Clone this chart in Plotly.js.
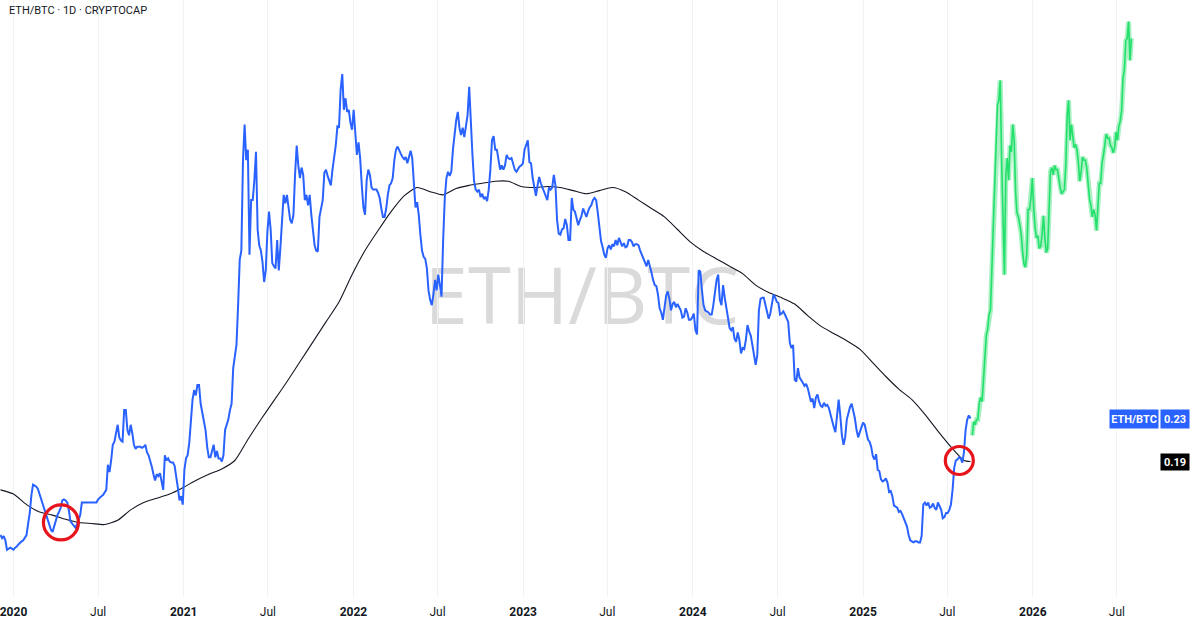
<!DOCTYPE html>
<html><head><meta charset="utf-8">
<script src="https://cdn.plot.ly/plotly-3.0.1.min.js"></script>
<style>html,body{margin:0;padding:0;background:#fff;} #chart{width:1200px;height:629px;}</style>
</head><body><div id="chart"></div>
<script>
// ---- data (ETH market cap / BTC market cap ratio) ----
const blueStart = '2019-12-04';
const blueStepDays = 7;            // weekly readings
const blueWeekly = [
0.119,0.118,0.105,0.107,0.105,0.108,0.112,0.114,0.119,0.140,
0.167,0.165,0.158,0.150,0.139,0.128,0.122,0.133,0.141,0.152,
0.152,0.143,0.130,0.126,0.133,0.150,0.150,0.150,0.150,0.150,
0.153,0.156,0.160,0.186,0.190,0.208,0.224,0.209,0.238,0.219,
0.224,0.205,0.203,0.203,0.203,0.198,0.190,0.177,0.177,0.178,
0.162,0.190,0.189,0.188,0.176,0.152,0.148,0.192,0.207,0.248,
0.252,0.262,0.236,0.219,0.193,0.200,0.193,0.192,0.189,0.219,
0.229,0.244,0.290,0.338,0.390,0.510,0.486,0.438,0.457,0.410,
0.390,0.360,0.408,0.410,0.375,0.400,0.393,0.443,0.443,0.419,
0.424,0.490,0.459,0.462,0.443,0.443,0.410,0.390,0.422,0.438,
0.467,0.457,0.467,0.490,0.507,0.558,0.535,0.524,0.505,0.505,
0.493,0.452,0.424,0.467,0.450,0.448,0.445,0.430,0.422,0.443,
0.454,0.476,0.489,0.482,0.477,0.473,0.485,0.448,0.436,0.405,
0.384,0.373,0.343,0.348,0.352,0.357,0.400,0.459,0.461,0.486,
0.514,0.507,0.507,0.510,0.546,0.481,0.448,0.448,0.444,0.441,
0.448,0.495,0.486,0.478,0.471,0.471,0.478,0.478,0.467,0.468,
0.471,0.486,0.495,0.473,0.448,0.452,0.454,0.446,0.438,0.448,
0.462,0.419,0.405,0.411,0.414,0.400,0.429,0.421,0.419,0.430,
0.422,0.431,0.438,0.438,0.410,0.393,0.383,0.395,0.396,0.400,
0.402,0.394,0.393,0.400,0.398,0.396,0.395,0.386,0.378,0.381,
0.369,0.357,0.348,0.331,0.338,0.351,0.333,0.341,0.339,0.333,
0.327,0.331,0.324,0.330,0.310,0.370,0.338,0.332,0.329,0.338,
0.362,0.343,0.357,0.337,0.316,0.317,0.303,0.305,0.297,0.305,
0.313,0.300,0.281,0.333,0.345,0.338,0.325,0.338,0.345,0.340,
0.330,0.329,0.322,0.297,0.267,0.278,0.267,0.261,0.259,0.246,
0.240,0.253,0.242,0.245,0.243,0.233,0.222,0.230,0.233,0.205,
0.229,0.241,0.237,0.219,0.217,0.226,0.217,0.208,0.194,0.196,
0.180,0.170,0.173,0.160,0.156,0.146,0.141,0.139,0.131,0.119,
0.113,0.113,0.112,0.118,0.150,0.150,0.146,0.145,0.150,0.143,
0.136,0.140,0.148,0.183,0.191,0.192,0.198,0.229,0.230
];
// readings half-way between the weekly ones (3.5 days later)
const blueMidweek = [
0.116,0.114,0.106,0.106,0.107,0.110,0.113,0.116,0.130,0.157,
0.166,0.163,0.154,0.145,0.133,0.124,0.128,0.138,0.145,0.153,
0.150,0.132,0.128,0.129,0.138,0.150,0.150,0.150,0.150,0.150,
0.155,0.157,0.162,0.179,0.205,0.217,0.212,0.208,0.238,0.214,
0.216,0.201,0.203,0.202,0.205,0.195,0.184,0.171,0.175,0.170,
0.195,0.192,0.188,0.185,0.164,0.156,0.181,0.195,0.224,0.257,
0.262,0.244,0.228,0.203,0.193,0.205,0.199,0.192,0.195,0.224,
0.238,0.278,0.300,0.381,0.476,0.476,0.386,0.438,0.484,0.395,
0.379,0.371,0.427,0.378,0.373,0.371,0.417,0.435,0.431,0.416,
0.462,0.471,0.469,0.438,0.433,0.424,0.395,0.389,0.431,0.464,
0.461,0.452,0.478,0.508,0.543,0.524,0.522,0.512,0.524,0.481,
0.478,0.431,0.457,0.462,0.448,0.448,0.440,0.422,0.430,0.452,
0.459,0.486,0.485,0.479,0.479,0.479,0.478,0.431,0.424,0.390,
0.382,0.352,0.338,0.362,0.367,0.346,0.440,0.465,0.465,0.502,
0.522,0.500,0.498,0.519,0.505,0.456,0.446,0.441,0.439,0.437,
0.467,0.499,0.486,0.467,0.467,0.481,0.477,0.473,0.465,0.470,
0.473,0.490,0.474,0.459,0.442,0.460,0.450,0.441,0.450,0.450,
0.452,0.406,0.410,0.420,0.400,0.440,0.427,0.414,0.423,0.425,
0.427,0.433,0.440,0.426,0.399,0.386,0.392,0.391,0.394,0.395,
0.398,0.397,0.394,0.400,0.394,0.396,0.390,0.383,0.375,0.376,
0.362,0.356,0.335,0.324,0.347,0.344,0.339,0.336,0.336,0.326,
0.335,0.324,0.326,0.314,0.371,0.352,0.333,0.331,0.329,0.348,
0.367,0.338,0.345,0.326,0.314,0.306,0.312,0.292,0.296,0.319,
0.309,0.289,0.290,0.344,0.345,0.330,0.330,0.348,0.341,0.329,
0.332,0.326,0.302,0.300,0.265,0.269,0.264,0.263,0.252,0.249,
0.250,0.246,0.241,0.242,0.240,0.229,0.217,0.248,0.214,0.212,
0.235,0.244,0.230,0.212,0.221,0.224,0.210,0.203,0.191,0.181,
0.172,0.171,0.169,0.161,0.147,0.145,0.142,0.135,0.127,0.114,
0.112,0.113,0.112,0.148,0.147,0.145,0.149,0.143,0.147,0.135,
0.140,0.143,0.162,0.190,0.193,0.188,0.219,0.233
];
// moving average, every 28 days from blueStart
const maStepDays = 28;
const maValues = [
0.162,0.158,0.148,0.141,0.138,0.134,0.131,0.130,0.129,0.133,
0.143,0.150,0.154,0.158,0.164,0.171,0.177,0.182,0.190,0.210,
0.229,0.247,0.265,0.284,0.303,0.322,0.341,0.367,0.390,0.409,
0.427,0.442,0.450,0.446,0.443,0.449,0.452,0.454,0.456,0.456,
0.451,0.450,0.451,0.450,0.447,0.444,0.447,0.450,0.446,0.438,
0.430,0.422,0.410,0.398,0.389,0.382,0.375,0.368,0.357,0.350,
0.345,0.339,0.328,0.318,0.311,0.304,0.296,0.283,0.270,0.258,
0.248,0.234,0.218,0.203,0.190
];
const maLastValue = 0.189;  // at the last blue date
// projected path (green), every 3 days
const greenStart = '2025-08-24';
const greenStepDays = 3;
const greenValues = [
0.214,0.227,0.224,0.229,0.229,0.245,0.250,0.246,0.267,0.293,
0.309,0.315,0.329,0.333,0.371,0.405,0.452,0.490,0.529,0.533,
0.552,0.476,0.414,0.367,0.462,0.478,0.457,0.490,0.484,0.510,
0.495,0.446,0.426,0.422,0.415,0.406,0.390,0.377,0.374,0.386,
0.429,0.429,0.440,0.459,0.431,0.411,0.402,0.404,0.392,0.394,
0.405,0.423,0.402,0.388,0.392,0.430,0.465,0.469,0.462,0.471,
0.467,0.467,0.457,0.450,0.444,0.446,0.448,0.471,0.519,0.533,
0.495,0.510,0.497,0.488,0.491,0.486,0.474,0.456,0.465,0.479,
0.476,0.476,0.469,0.452,0.439,0.433,0.422,0.429,0.424,0.409,
0.433,0.454,0.454,0.474,0.481,0.490,0.501,0.497,0.497,0.490,
0.488,0.483,0.488,0.503,0.495,0.508,0.513,0.523,0.554,0.562,
0.590,0.592,0.608,0.571,0.592
];
const tickDates = ['2020-01-01','2020-07-01','2021-01-01','2021-07-01','2022-01-01','2022-07-01',
  '2023-01-01','2023-07-01','2024-01-01','2024-07-01','2025-01-01','2025-07-01','2026-01-01','2026-07-01'];
const tickLabels = ['2020','Jul','2021','Jul','2022','Jul','2023','Jul','2024','Jul','2025','Jul','2026','Jul'];

// ---- helpers ----
const DAY = 86400000;
function ms(s){ return Date.parse(s + 'T00:00:00Z'); }
function iso(t){ return new Date(t).toISOString().slice(0,19).replace('T',' '); }
function series(start, step, n){ const a=[]; for(let i=0;i<n;i++) a.push(iso(ms(start)+i*step*DAY)); return a; }

const blueX = [], blueY = [];
for (let i = 0; i < blueWeekly.length; i++) {
  blueX.push(iso(ms(blueStart) + i*blueStepDays*DAY)); blueY.push(blueWeekly[i]);
  if (i < blueMidweek.length) { blueX.push(iso(ms(blueStart) + (i + 0.5)*blueStepDays*DAY)); blueY.push(blueMidweek[i]); }
}
const lastBlueDate = blueX[blueX.length-1];
const lastBlue = blueWeekly[blueWeekly.length-1];
const maDates = series(blueStart, maStepDays, maValues.length).concat([lastBlueDate]);
const maAll = maValues.concat([maLastValue]);
const greenDates = series(greenStart, greenStepDays, greenValues.length);

const traces = [
  {x: maDates, y: maAll, type:'scatter', mode:'lines', line:{color:'#131722', width:1.1, shape:'spline', smoothing:0.6}, hoverinfo:'skip'},
  {x: blueX, y: blueY, type:'scatter', mode:'lines', line:{color:'#2962ff', width:2}, hoverinfo:'skip'},
  {x: greenDates, y: greenValues, type:'scatter', mode:'lines', line:{color:'rgba(60,225,120,0.45)', width:5}, hoverinfo:'skip'},
  {x: greenDates, y: greenValues, type:'scatter', mode:'lines', line:{color:'#22e06b', width:1.6}, hoverinfo:'skip'}
];

const x0 = iso(ms('2020-01-01') - 29.03*DAY);
const x1 = iso(ms('2020-01-01') + 2551.6*DAY);

const layout = {
  width:1200, height:629,
  margin:{l:0, r:0, t:0, b:32},
  paper_bgcolor:'#ffffff', plot_bgcolor:'#ffffff',
  showlegend:false,
  xaxis:{type:'date', range:[x0,x1], tickvals:tickDates,
    ticktext: tickLabels.map(t => /^\d{4}$/.test(t) ? '<b>'+t+'</b>' : t),
    showgrid:true, gridcolor:'#f0f2f6', gridwidth:1, zeroline:false, showline:false, ticks:'',
    ticklabeloverflow:'allow', ticklabelstandoff:6,
    tickfont:{family:'Roboto, sans-serif', size:12, color:'#131722'}, fixedrange:true},
  yaxis:{range:[0.06, 0.628571], visible:false, showgrid:false, zeroline:false, fixedrange:true},
  shapes:[
    {type:'rect', xref:'paper', yref:'paper', x0:0.385, x1:0.585, y0:0.42, y1:0.58, layer:'below',
     line:{width:0}, fillcolor:'rgba(0,0,0,0)',
     label:{text:'ETH/BTC', textposition:'middle center', font:{family:'Open Sans, sans-serif', size:78, color:'#dadada'}}},
    {type:'circle', xref:'x', yref:'y', xsizemode:'pixel', ysizemode:'pixel',
     xanchor:'2020-04-12', yanchor:0.131, x0:-17.5, x1:17.5, y0:-17.5, y1:17.5,
     line:{color:'#e8141c', width:3.2}},
    {type:'circle', xref:'x', yref:'y', xsizemode:'pixel', ysizemode:'pixel',
     xanchor:'2025-07-27', yanchor:0.190, x0:-14, x1:14, y0:-14, y1:14,
     line:{color:'#e8141c', width:3.2}}
  ],
  annotations:[
    {xref:'paper', yref:'paper', x:7/1200, y:1-10/597, xanchor:'left', yanchor:'middle', showarrow:false,
     text:'ETH/BTC · 1D · CRYPTOCAP', font:{family:'Roboto, sans-serif', size:11, color:'#131722'}},
    {xref:'paper', yref:'y', x:1159/1200, y:lastBlue, xanchor:'right', yanchor:'middle', showarrow:false,
     text:'<b>ETH/BTC</b>', bgcolor:'#2962ff', width:46, height:16, borderpad:1,
     font:{family:'Roboto, sans-serif', size:11, color:'#ffffff'}},
    {xref:'paper', yref:'y', x:1190/1200, y:lastBlue, xanchor:'right', yanchor:'middle', showarrow:false,
     text:'<b>'+lastBlue.toFixed(2)+'</b>', bgcolor:'#2962ff', width:26, height:16, borderpad:1,
     font:{family:'Roboto, sans-serif', size:11, color:'#ffffff'}},
    {xref:'paper', yref:'y', x:1190/1200, y:maLastValue, xanchor:'right', yanchor:'middle', showarrow:false,
     text:'<b>'+maLastValue.toFixed(2)+'</b>', bgcolor:'#000000', width:26, height:14, borderpad:1,
     font:{family:'Roboto, sans-serif', size:11, color:'#ffffff'}}
  ]
};

Plotly.newPlot('chart', traces, layout, {staticPlot:true, displayModeBar:false});
</script>
</body></html>
